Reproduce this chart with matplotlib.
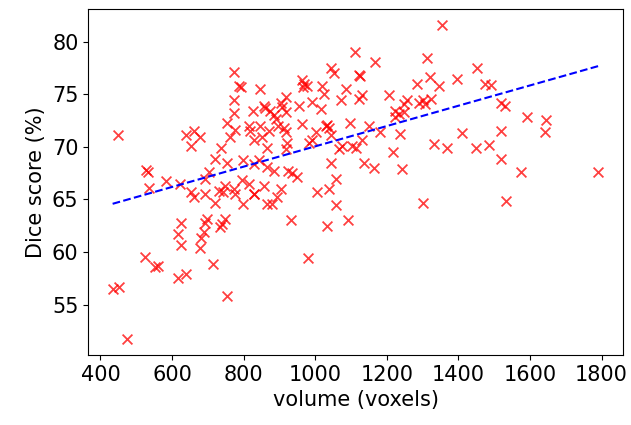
import matplotlib
matplotlib.use("Agg")
import matplotlib.pyplot as plt
import numpy as np

# volume (voxels) and Dice score (%)
volume = [448, 434, 451, 475, 524, 551, 560, 526, 534, 535, 584,
          638, 661, 679, 652, 622, 652, 661, 624, 616, 626, 616, 638,
          703, 693, 691, 693, 699, 689, 681, 677, 715, 721, 731, 741, 749,
          735, 740, 749, 754, 774, 777, 799, 796, 814, 830, 721, 754, 799,
          772, 786, 794, 772, 772, 754, 777, 763, 737, 825, 814, 819, 845,
          847, 856, 828, 852, 866, 870, 828, 842, 866, 884,
          861, 875, 884, 889, 903, 917, 908, 917, 897, 912, 917, 922, 917,
          856, 828, 866, 880, 894, 905, 925, 936, 950, 933, 980,
          1004, 1038, 1057, 1059, 1033, 1091, 1164, 1241, 1302,
          1110, 1168, 1043, 1052, 1122, 1126, 964, 970, 978, 967, 1019, 1024,
          1085, 1131, 1122, 1071, 1206, 992, 1016, 954, 964, 1029, 1033, 1038,
          1096, 1150, 1182, 1224, 1234, 1248, 1224, 1001, 1043, 982, 992,
          1066, 1075, 1103, 1113, 1131, 1217, 1043, 1136, 1238,
          1284, 1290, 1300, 1308, 1257, 1247, 1323, 1312, 1355, 1453, 1320,
          1345, 1395, 1474, 1492, 1518, 1529, 1592, 1646, 1643, 1520, 1411,
          1331, 1368, 1448, 1486, 1518, 1576, 1791, 1532]
dice = [71.1, 56.5, 56.7, 51.7, 59.5, 58.6, 58.7, 67.8, 67.6, 66.1, 66.7,
        71.1, 71.5, 70.9, 70.1, 66.5, 65.7, 65.2, 62.8, 61.7, 60.7, 57.5, 57.9,
        67.6, 66.9, 65.5, 62.8, 63.1, 61.9, 61.3, 60.4, 58.9, 64.7, 65.8, 65.7, 66.3,
        62.4, 62.7, 63.1, 55.8, 66.0, 65.5, 64.6, 66.8, 66.5, 65.5, 68.8, 68.5, 68.7,
        77.1, 75.8, 75.7, 74.4, 73.2, 72.3, 71.6, 70.9, 69.9, 73.4, 72.0, 71.5, 75.5,
        72.0, 73.9, 70.6, 70.9, 69.9, 71.5, 68.4, 68.7, 68.1, 67.7,
        73.7, 73.4, 73.0, 72.6, 74.2, 74.7, 73.8, 73.3, 72.0, 71.8, 71.4, 70.4, 69.8,
        66.3, 65.5, 64.6, 64.6, 65.2, 66.0, 67.7, 67.5, 67.1, 63.0, 59.4,
        65.7, 66.0, 66.9, 64.5, 62.5, 63.0, 68.0, 67.9, 64.7,
        79.0, 78.1, 77.5, 77.0, 76.8, 76.7, 76.3, 76.0, 75.8, 75.7, 75.8, 75.0,
        75.5, 74.9, 74.5, 74.4, 74.9, 74.3, 73.6, 73.9, 72.2, 72.0, 72.1, 71.8,
        72.3, 72.0, 71.4, 73.4, 73.1, 73.3, 72.8, 71.4, 71.1, 70.4, 70.6,
        69.8, 70.1, 70.1, 69.9, 70.6, 69.5, 68.5, 68.5, 71.2,
        76.0, 74.2, 74.4, 74.1, 74.4, 74.1, 74.5, 78.4, 81.6, 77.5, 76.6,
        75.8, 76.4, 76.0, 75.9, 74.2, 73.9, 72.8, 72.5, 71.4, 71.5, 71.3,
        70.3, 69.9, 69.9, 70.2, 68.8, 67.6, 67.6, 64.8]

# fitted trend line
slope = 0.00965
intercept = 60.39

fig = plt.figure(figsize=(6.31, 4.25), dpi=100)
ax = fig.add_axes([0.14, 0.1647, 0.8468, 0.8141])

ax.scatter(volume, dice, marker='x', color='r', s=50, alpha=0.75, linewidths=1.3)
line_x = np.array([min(volume), max(volume)])
ax.plot(line_x, intercept + slope * line_x, 'b--', linewidth=1.5)

ax.set_xticks(range(400, 1801, 200))
ax.set_yticks(range(55, 81, 5))
ax.tick_params(labelsize=15)
ax.set_xlabel('volume (voxels)', fontsize=15)
ax.set_ylabel('Dice score (%)', fontsize=15)

fig.savefig('out.png', dpi=100)
